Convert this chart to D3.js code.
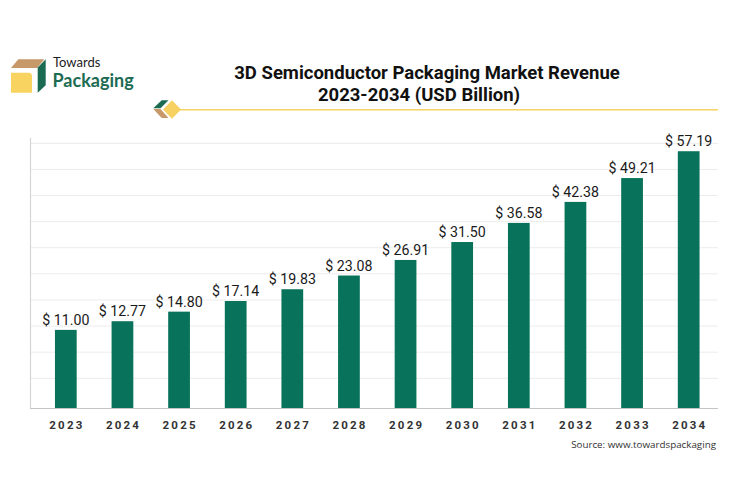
<!DOCTYPE html>
<html>
<head>
<meta charset="utf-8">
<script src="https://cdn.jsdelivr.net/npm/d3@7/dist/d3.min.js"></script>
<style>
  html, body { margin: 0; padding: 0; background: #ffffff; }
  svg { display: block; }
</style>
</head>
<body>
<svg id="chart" width="735" height="485"></svg>
<script>
const years = ["2023","2024","2025","2026","2027","2028","2029","2030","2031","2032","2033","2034"];
const revenue = [11.00, 12.77, 14.80, 17.14, 19.83, 23.08, 26.91, 31.50, 36.58, 42.38, 49.21, 57.19];
const titleLines = ["3D Semiconductor Packaging Market Revenue", "2023-2034 (USD Billion)"];
const sourceText = "Source: www.towardspackaging";

const svg = d3.select("#chart");
const baseY = 408;
const gridCount = 10;

// scales
const x = d3.scaleBand().domain(years).range([37.5, 717]).paddingInner(0.616).paddingOuter(0.308);
const y = d3.scalePow().exponent(0.75).domain([0, 60]).range([403, 142]);
const grid = d3.scaleLinear().domain([0, gridCount - 1]).range([378.3, 143.3]);

// gridlines
svg.append("g").selectAll("line").data(d3.range(gridCount)).join("line")
  .attr("x1", 31).attr("x2", 718)
  .attr("y1", d => grid(d)).attr("y2", d => grid(d))
  .attr("stroke", "#ececec").attr("stroke-width", 1);

// left axis line
svg.append("line").attr("x1", 30.5).attr("x2", 30.5).attr("y1", 138).attr("y2", baseY)
  .attr("stroke", "#d6d6d6").attr("stroke-width", 1.2);

// bars
svg.append("g").selectAll("rect").data(revenue).join("rect")
  .attr("x", (d, i) => x(years[i]))
  .attr("width", x.bandwidth())
  .attr("y", d => y(d))
  .attr("height", d => baseY - y(d))
  .attr("fill", "#08735a");

// bottom axis line
svg.append("line").attr("x1", 30).attr("x2", 718).attr("y1", baseY + 0.5).attr("y2", baseY + 0.5)
  .attr("stroke", "#c4c4c4").attr("stroke-width", 1.2);

// value labels
svg.append("g").selectAll("text").data(revenue).join("text")
  .attr("x", (d, i) => x(years[i]) + x.bandwidth() / 2)
  .attr("y", d => y(d) - 5)
  .attr("text-anchor", "middle")
  .attr("font-family", "Roboto, 'Liberation Sans', sans-serif")
  .attr("font-size", 14.2)
  .attr("fill", "#1a1a1a")
  .text(d => "$ " + d.toFixed(2));

// x tick labels (letter-spaced)
const ls = 2.2;
svg.append("g").selectAll("text").data(years).join("text")
  .attr("x", d => x(d) + x.bandwidth() / 2 + ls / 2)
  .attr("y", 428.5)
  .attr("text-anchor", "middle")
  .attr("font-family", "Roboto, 'Liberation Sans', sans-serif")
  .attr("font-weight", 700)
  .attr("font-size", 11.5)
  .attr("letter-spacing", ls)
  .attr("fill", "#333333")
  .text(d => d);

// source
svg.append("text").attr("x", 716).attr("y", 448).attr("text-anchor", "end")
  .attr("font-family", "'Open Sans', 'Liberation Sans', sans-serif")
  .attr("font-size", 9.8).attr("fill", "#333333").text(sourceText);

// title
const titleCenters = [427, 419];
const titleY = [79, 100.5];
svg.append("g").selectAll("text").data(titleLines).join("text")
  .attr("x", (d, i) => titleCenters[i])
  .attr("y", (d, i) => titleY[i])
  .attr("text-anchor", "middle")
  .attr("font-family", "Roboto, 'Liberation Sans', sans-serif")
  .attr("font-weight", 700)
  .attr("font-size", 18.5)
  .attr("fill", "#111111")
  .text(d => d);

// title decoration
svg.append("line").attr("x1", 178).attr("x2", 718).attr("y1", 109.7).attr("y2", 109.7)
  .attr("stroke", "#f6d163").attr("stroke-width", 1.6);
svg.append("polygon").attr("points", "153.3,108.3 161.7,100.3 168.5,100.3 160.5,108.3").attr("fill", "#1a6b52");
svg.append("polygon").attr("points", "153.3,108.9 160.5,108.9 168.5,118 161.7,118").attr("fill", "#c7996a");
svg.append("polygon").attr("points", "172,100.3 181,109.5 172,118.7 163,109.5").attr("fill", "#f7d262");

// logo icon
svg.append("polygon").attr("points", "11,68 18.3,59.3 44.3,59.3 37,68").attr("fill", "#c7996a");
svg.append("polygon").attr("points", "37.7,67.5 45.7,59.3 45.7,85.3 37.7,92.7").attr("fill", "#1a6b52");
svg.append("path").attr("d", "M11,72.7 H28.5 Q32,72.7 32,76.2 V92.7 H11 Z").attr("fill", "#f8d35f");

// logo text
svg.append("text").attr("x", 53).attr("y", 66.8)
  .attr("font-family", "Lato, 'Open Sans', sans-serif")
  .attr("font-size", 13).attr("fill", "#222222").text("Towards");
svg.append("text").attr("x", 52.5).attr("y", 87)
  .attr("font-family", "Lato, 'Open Sans', sans-serif")
  .attr("font-weight", 700)
  .attr("font-size", 18).attr("fill", "#1c6b52").text("Packaging");
</script>
</body>
</html>
